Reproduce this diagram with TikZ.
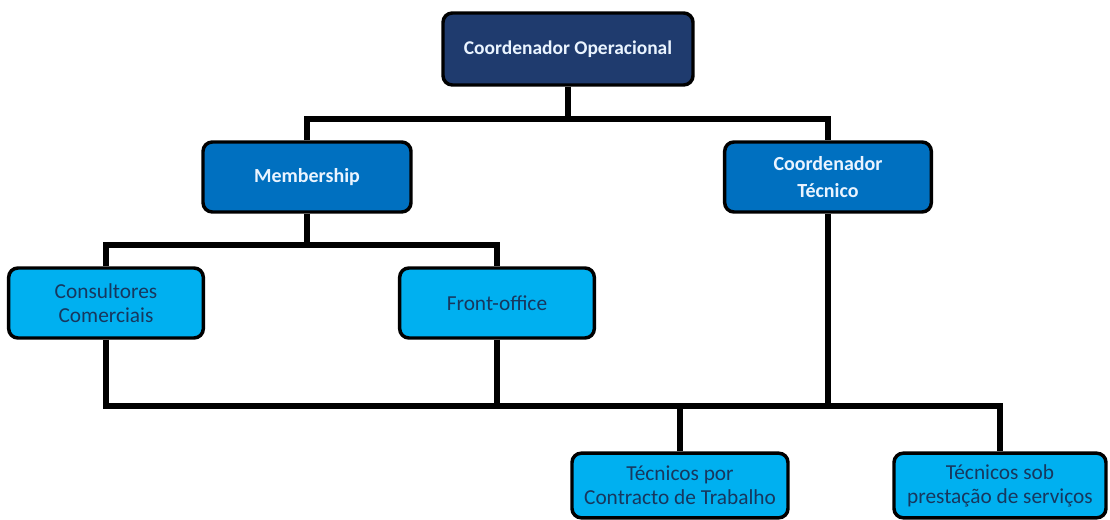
\documentclass[tikz,border=0pt]{standalone}
\usepackage{fontspec}
\setmainfont{Carlito}
\definecolor{navy}{HTML}{1F3B6E}
\definecolor{midblue}{HTML}{0070C0}
\definecolor{skyblue}{HTML}{00B0F0}
\definecolor{inkblue}{HTML}{17375E}
\definecolor{paletext}{HTML}{EAF4FF}
\tikzset{
  box/.style={draw=black, line width=2.6pt, rounded corners=7pt, align=center, inner sep=2pt},
  topbox/.style={box, fill=navy, text=paletext, font=\fontsize{14.6}{17}\selectfont\bfseries},
  midbox/.style={box, fill=midblue, text=paletext, font=\fontsize{15}{20}\selectfont\bfseries},
  lowbox/.style={box, fill=skyblue, text=inkblue, font=\fontsize{16}{18}\selectfont},
  conn/.style={draw=black, line width=3.8pt}
}
\begin{document}
\begin{tikzpicture}[x=0.75pt, y=-0.75pt]
  \useasboundingbox[fill=white] (0,0) rectangle (1110,520);

  % boxes
  \node[topbox, minimum width=187.5pt, minimum height=54pt] (co) at (568,49) {Coordenador Operacional};
  \node[midbox, minimum width=156pt, minimum height=52.5pt] (mem) at (307,177) {Membership};
  \node[midbox, minimum width=155pt, minimum height=52.5pt] (ct) at (828,177) {Coordenador\\Técnico};
  \node[lowbox, minimum width=146pt, minimum height=52.5pt] (cons) at (106,303) {Consultores\\Comerciais};
  \node[lowbox, minimum width=146pt, minimum height=52.5pt] (fo) at (497,303) {Front-office};
  \node[lowbox, minimum width=162pt, minimum height=48.5pt] (tct) at (680,485.5) {Técnicos por\\Contracto de Trabalho};
  \node[lowbox, minimum width=159pt, minimum height=48.5pt] (tsp) at (1000,485.5) {Técnicos sob\\prestação de serviços};

  % junction points of the bars
  \coordinate (j1) at (568,119);
  \coordinate (j2) at (307,245);
  \coordinate (j3) at (680,406);

  % connectors
  \draw[conn] (co.south) -- (j1);
  \draw[conn] (mem.north) |- (j1) -| (ct.north);
  \draw[conn] (mem.south) -- (j2);
  \draw[conn] (cons.north) |- (j2) -| (fo.north);
  \draw[conn] (cons.south) |- (j3) -| (tsp.north);
  \draw[conn] (fo.south) -- (fo.south |- j3);
  \draw[conn] (ct.south) -- (ct.south |- j3);
  \draw[conn] (tct.north) -- (j3);
\end{tikzpicture}
\end{document}
